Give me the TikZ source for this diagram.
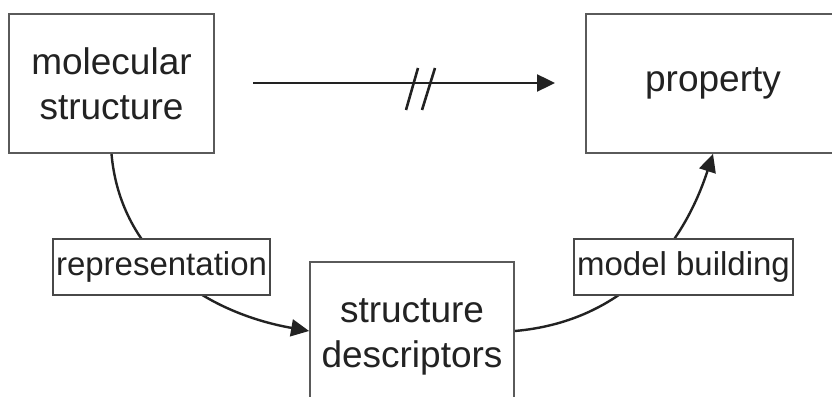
\documentclass[tikz,border=0pt]{standalone}
\usepackage{fontspec}
\setmainfont{Liberation Sans}
\usetikzlibrary{arrows.meta}
\definecolor{boxgray}{HTML}{5A5A5A}
\definecolor{ink}{HTML}{222222}
\begin{document}
\begin{tikzpicture}[x=1pt,y=1pt,
  bigbox/.style={draw=boxgray, line width=1.8pt, fill=white, align=center, text=ink,
     font=\fontsize{37}{45}\selectfont, inner sep=0pt},
  lblbox/.style={draw=boxgray!80!black, line width=1.6pt, fill=white, text=ink,
     font=\fontsize{33}{38}\selectfont, inner sep=0pt, minimum height=56pt},
  conn/.style={draw=ink, line width=2.4pt, -{Triangle[length=18pt,width=17pt]}}]
\useasboundingbox (0,0) rectangle (832,396);
\clip (0,0) rectangle (832,396);
\fill[white] (0,0) rectangle (832,396);
\node[bigbox, minimum width=205pt, minimum height=139pt] (mol) at (111.5,312.5) {molecular\\structure};
\node[bigbox, minimum width=254pt, minimum height=139pt] (prop) at (713,312.5) {property};
\node[bigbox, minimum width=204pt, minimum height=150pt] (desc) at (412,59) {structure\\descriptors};
\coordinate (a1) at (253,313);
\coordinate (a2) at (555,313);
\draw[conn] (a1) -- (a2);
\coordinate (s1a) at (406,286); \coordinate (s1b) at (418,328);
\coordinate (s2a) at (422,286); \coordinate (s2b) at (435,328);
\draw[ink, line width=2.6pt] (s1a) -- (s1b) (s2a) -- (s2b);
\draw[conn] (mol.south) to[out=-85,in=170] ([yshift=6pt]desc.west);
\draw[conn] ([yshift=6pt]desc.east) to[out=5,in=-108] (prop.south);
\node[lblbox, minimum width=217pt] (rep) at (161.5,129) {representation};
\node[lblbox, minimum width=219pt] (mb) at (683.5,129) {model building};
\end{tikzpicture}
\end{document}
